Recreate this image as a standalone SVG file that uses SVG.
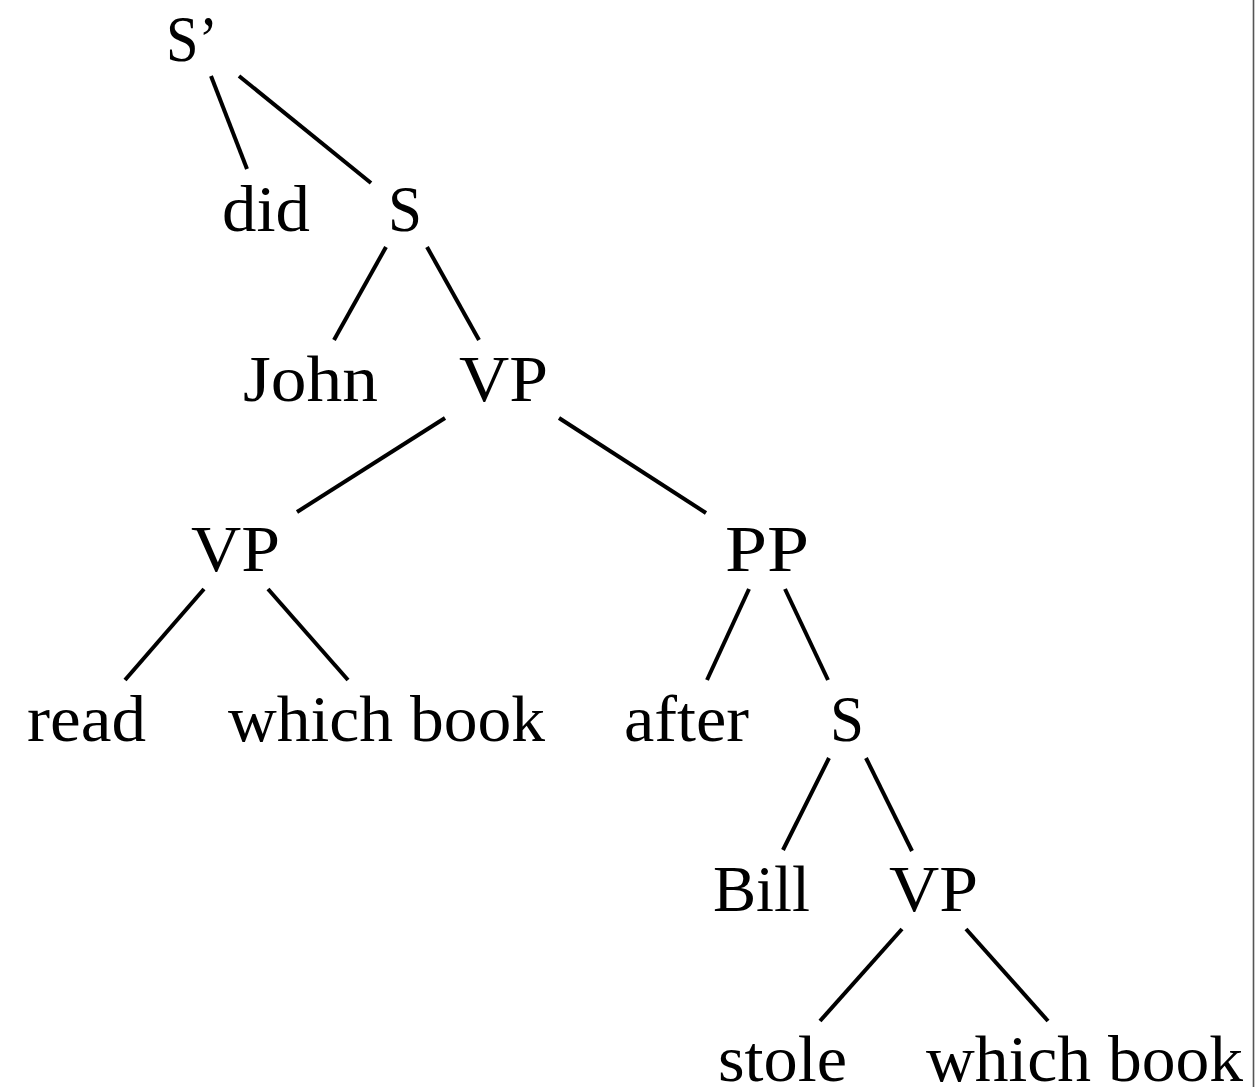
<svg xmlns="http://www.w3.org/2000/svg" width="1255" height="1087" viewBox="0 0 1255 1087">
<style>
  .lbl { font-family: "Liberation Serif", "Times New Roman", serif; font-size: 66px; fill: #000; }
  .edge { stroke: #000; stroke-width: 4; stroke-linecap: butt; fill: none; }
</style>
<rect x="0" y="0" width="1255" height="1087" fill="#fff"/>
<line x1="1253.5" y1="0" x2="1253.5" y2="1087" stroke="#555" stroke-width="1.6"/>
<g id="connectors">
  <line class="edge" x1="211" y1="76" x2="247" y2="169"/>
  <line class="edge" x1="239" y1="76" x2="371" y2="183"/>
  <line class="edge" x1="386" y1="247" x2="334" y2="340"/>
  <line class="edge" x1="427" y1="247" x2="479" y2="340"/>
  <line class="edge" x1="445" y1="418" x2="297" y2="512"/>
  <line class="edge" x1="559" y1="418" x2="706" y2="513"/>
  <line class="edge" x1="204" y1="589" x2="125" y2="680"/>
  <line class="edge" x1="268" y1="589" x2="348" y2="680"/>
  <line class="edge" x1="749" y1="589" x2="707" y2="680"/>
  <line class="edge" x1="785" y1="589" x2="828" y2="680"/>
  <line class="edge" x1="829" y1="758" x2="783" y2="850"/>
  <line class="edge" x1="866" y1="758" x2="912" y2="851"/>
  <line class="edge" x1="902" y1="929" x2="820" y2="1021"/>
  <line class="edge" x1="966" y1="929" x2="1048" y2="1021"/>
</g>
<g id="n-Sbar"><text class="lbl" x="166" y="61" textLength="52" lengthAdjust="spacingAndGlyphs">S’</text></g>
<g id="n-did"><text class="lbl" x="222" y="231" textLength="88" lengthAdjust="spacingAndGlyphs">did</text></g>
<g id="n-S1"><text class="lbl" x="388" y="231" textLength="34" lengthAdjust="spacingAndGlyphs">S</text></g>
<g id="n-John"><text class="lbl" x="243" y="401" textLength="135" lengthAdjust="spacingAndGlyphs">John</text></g>
<g id="n-VP1"><text class="lbl" x="459" y="401" textLength="89" lengthAdjust="spacingAndGlyphs">VP</text></g>
<g id="n-VP2"><text class="lbl" x="191" y="571" textLength="89" lengthAdjust="spacingAndGlyphs">VP</text></g>
<g id="n-PP"><text class="lbl" x="725" y="571" textLength="84" lengthAdjust="spacingAndGlyphs">PP</text></g>
<g id="n-read"><text class="lbl" x="27" y="741" textLength="119" lengthAdjust="spacingAndGlyphs">read</text></g>
<g id="n-whichbook1"><text class="lbl" x="228" y="741" textLength="317" lengthAdjust="spacingAndGlyphs">which book</text></g>
<g id="n-after"><text class="lbl" x="624" y="741" textLength="125" lengthAdjust="spacingAndGlyphs">after</text></g>
<g id="n-S2"><text class="lbl" x="830" y="741" textLength="34" lengthAdjust="spacingAndGlyphs">S</text></g>
<g id="n-Bill"><text class="lbl" x="713" y="911" textLength="97" lengthAdjust="spacingAndGlyphs">Bill</text></g>
<g id="n-VP3"><text class="lbl" x="889" y="911" textLength="89" lengthAdjust="spacingAndGlyphs">VP</text></g>
<g id="n-stole"><text class="lbl" x="718" y="1081" textLength="129" lengthAdjust="spacingAndGlyphs">stole</text></g>
<g id="n-whichbook2"><text class="lbl" x="926" y="1081" textLength="317" lengthAdjust="spacingAndGlyphs">which book</text></g>
</svg>
